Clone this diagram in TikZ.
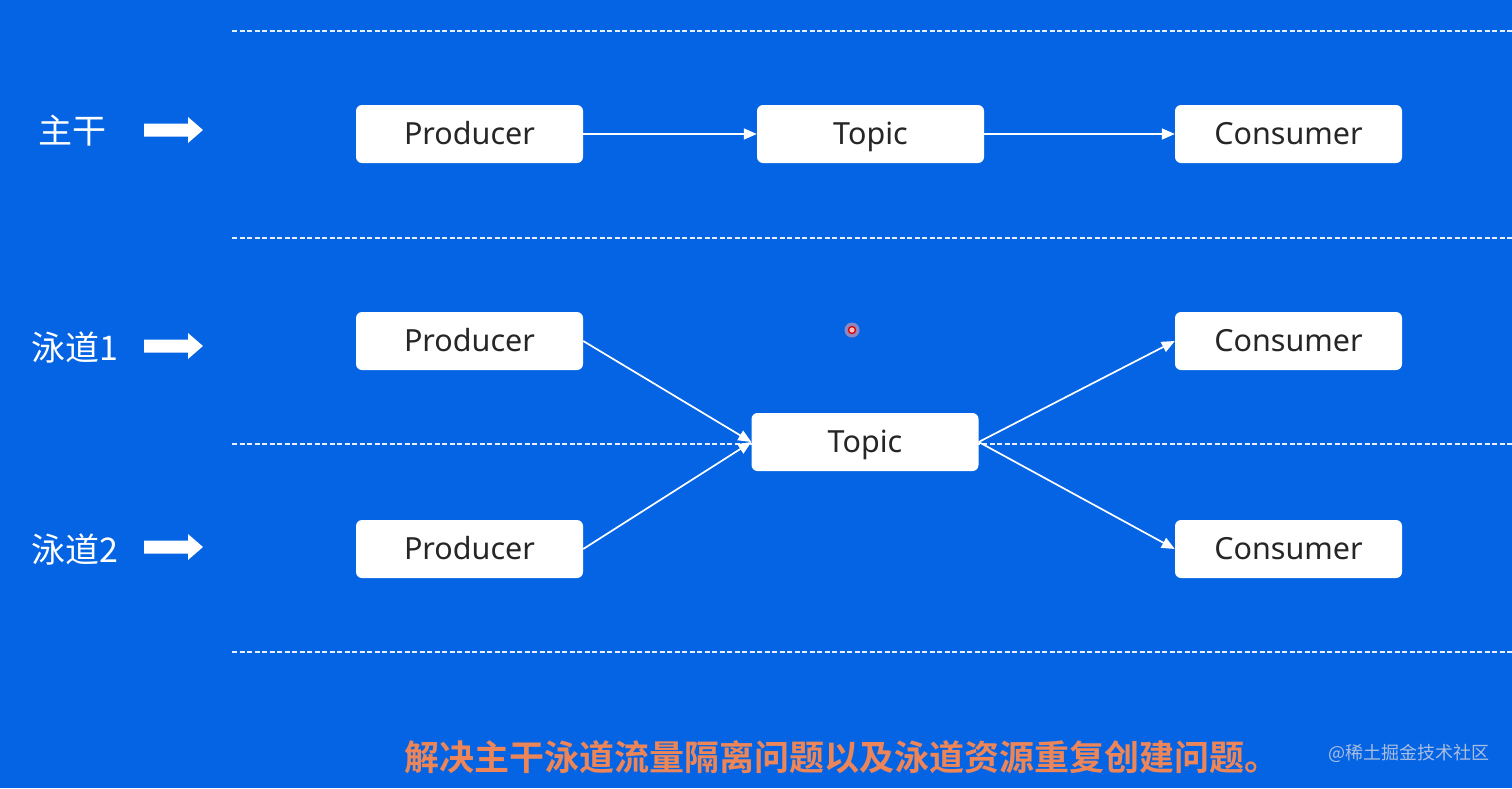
\documentclass[tikz,border=0pt]{standalone}
\usepackage{fontspec}
\setmainfont{Noto Sans}
\newfontfamily\cjk{Noto Sans CJK SC}
\newfontfamily\cjkb{Noto Sans CJK SC Bold}
\usetikzlibrary{arrows.meta}
\definecolor{bgblue}{RGB}{4,100,228}
\definecolor{txtorange}{RGB}{236,134,88}
\definecolor{wmark}{RGB}{170,190,225}
\tikzset{
  box/.style={draw=none, fill=white, rounded corners=6pt, minimum width=227pt, minimum height=58pt, inner sep=0pt, font=\fontsize{30.5}{32}\selectfont, text=black!85, text height=26pt, text depth=5pt},
  conn/.style={draw=white, line width=1.7pt, -{Triangle[length=13pt,width=11pt]}},
  sep/.style={draw=white!90!bgblue, line width=1.3pt, dash pattern=on 5pt off 2.5pt},
  lab/.style={text=white, font=\cjk\fontsize{34}{36}\selectfont, inner sep=0pt},
  blockarrow/.style={fill=white, draw=none}
}
\begin{document}
\begin{tikzpicture}[x=1pt,y=-1pt]
\fill[bgblue] (0,0) rectangle (1512,788);
\useasboundingbox (0,0) rectangle (1512,788);
% dashed separators
\coordinate (d1a) at (232,31); \coordinate (d1b) at (1512,31);
\coordinate (d2a) at (232,238); \coordinate (d2b) at (1512,238);
\coordinate (d3a) at (232,444); \coordinate (d3b) at (1512,444);
\coordinate (d4a) at (232,652); \coordinate (d4b) at (1512,652);
\draw[sep] (d1a) -- (d1b);
\draw[sep] (d2a) -- (d2b);
\draw[sep] (d3a) -- (d3b);
\draw[sep] (d4a) -- (d4b);
% labels
\node[lab] (l1) at (72,131) {主干};
\node[lab] (l2) at (75,348) {泳道1};
\node[lab] (l3) at (75,549) {泳道2};
% block arrows
\foreach \yy/\nm in {130/a1,346/a2,547/a3}{
  \fill[blockarrow] (144,\yy-6.5) -- (188,\yy-6.5) -- (188,\yy-13) -- (203,\yy) -- (188,\yy+13) -- (188,\yy+6.5) -- (144,\yy+6.5) -- cycle;
}
% nodes
\node[box] (p0) at (469.5,134) {Producer};
\node[box] (t0) at (870.5,134) {Topic};
\node[box] (c0) at (1288.5,134) {Consumer};
\node[box] (p1) at (469.5,341) {Producer};
\node[box] (c1) at (1288.5,341) {Consumer};
\node[box] (t1) at (865,442) {Topic};
\node[box] (p2) at (469.5,549) {Producer};
\node[box] (c2) at (1288.5,549) {Consumer};
% connectors
\draw[conn] (p0.east) -- (t0.west);
\draw[conn] (t0.east) -- (c0.west);
\draw[conn] (p1.east) -- (t1.west);
\draw[conn] (p2.east) -- (t1.west);
\draw[conn] (t1.east) -- (c1.west);
\draw[conn] (t1.east) -- (c2.west);
% pointer dot
\node[circle, fill=red!35!white, opacity=0.55, minimum size=15pt, inner sep=0pt] (dotg) at (852,330) {};
\node[circle, draw=red!85!black, fill=pink, line width=1.3pt, minimum size=7pt, inner sep=0pt] (dot) at (852,330) {};
% bottom text
\node[text=txtorange, font=\cjkb\fontsize{35}{37}\selectfont, inner sep=0pt] (msg) at (842,757) {解决主干泳道流量隔离问题以及泳道资源重复创建问题。};
\node[text=wmark, font=\cjk\fontsize{18}{20}\selectfont, inner sep=0pt] (wm) at (1409,753) {@稀土掘金技术社区};
\end{tikzpicture}
\end{document}
